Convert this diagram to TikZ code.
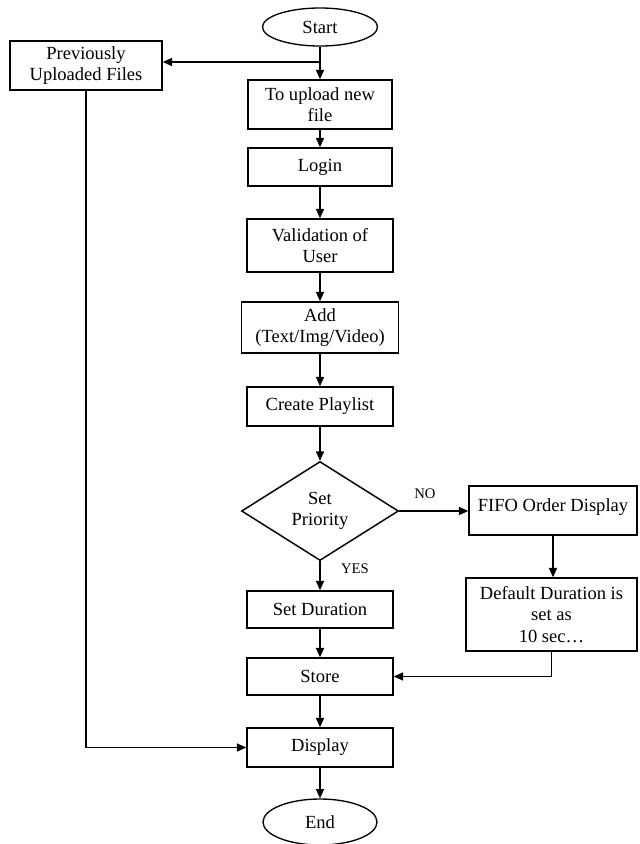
\documentclass[tikz,border=0pt]{standalone}
\usepackage{fontspec}
\setmainfont{Liberation Serif}
\usetikzlibrary{shapes.geometric,arrows.meta}
\begin{document}
\begin{tikzpicture}[x=0.75pt,y=-0.75pt,
  every node/.style={font=\fontsize{13.9}{16}\selectfont, align=center, inner sep=2pt},
  box/.style={draw, line width=1.1pt, rectangle},
  term/.style={draw, line width=1pt, ellipse, inner sep=0pt},
  decide/.style={draw, line width=1.1pt, diamond, shape aspect=1.5, inner sep=0pt},
  arr/.style={line width=1.1pt, -{Triangle[length=7pt,width=6pt]}},
  thinarr/.style={line width=0.9pt, -{Triangle[length=7pt,width=6pt]}},
  lbl/.style={font=\fontsize{11}{13}\selectfont}]
\useasboundingbox (0,0) rectangle (640,844);
% nodes
\node[term, minimum width=86.25pt, minimum height=28.5pt] (start) at (320,27) {Start};
\node[box, minimum width=114pt, minimum height=36.75pt] (prev) at (86,65.5) {Previously\\Uploaded Files};
\node[box, minimum width=108pt, minimum height=36.75pt] (upload) at (320,104.5) {To upload new\\file};
\node[box, minimum width=108pt, minimum height=28.5pt] (login) at (320,167) {Login};
\node[box, minimum width=109.5pt, minimum height=39.75pt] (valid) at (320,245.5) {Validation of\\User};
\node[box, minimum width=117.75pt, minimum height=38.25pt] (add) at (320,327.5) {Add\\(Text/Img/Video)};
\node[box, minimum width=109.5pt, minimum height=29.25pt] (create) at (320,406.5) {Create Playlist};
\node[decide, minimum width=117.75pt, minimum height=74.25pt] (prio) at (320,511) {Set\\Priority};
\node[box, minimum width=126pt, minimum height=36.75pt, text depth=8pt] (fifo) at (553,510.5) {FIFO Order Display};
\node[box, minimum width=128.25pt, minimum height=54.75pt] (default) at (551.5,614.5) {Default Duration is\\set as\\10 sec…};
\node[box, minimum width=109.5pt, minimum height=27.75pt] (setdur) at (320,609.5) {Set Duration};
\node[box, minimum width=109.5pt, minimum height=27.75pt] (store) at (320,676.5) {Store};
\node[box, minimum width=109.5pt, minimum height=29.25pt] (display) at (320,747.5) {Display};
\node[term, minimum width=85.5pt, minimum height=34.5pt] (end) at (320,822) {End};
\node[lbl] (no) at (425,494) {NO};
\node[lbl] (yes) at (355,569) {YES};
% connectors
\coordinate (br) at (320,62);
\draw[arr] (start.south) -- (upload.north);
\draw[arr] (br) -- (prev.east |- br);
\draw[arr] (upload) -- (login);
\draw[arr] (login) -- (valid);
\draw[arr] (valid) -- (add);
\draw[arr] (add) -- (create);
\draw[arr] (create) -- (prio);
\draw[arr] (prio.east) -- (prio.east -| fifo.west);
\draw[arr] (fifo.south) -- (fifo.south |- default.north);
\draw[arr] (prio.south) -- (setdur.north);
\draw[arr] (setdur) -- (store);
\draw[thinarr] (default.south) |- (store.east);
\draw[arr] (store) -- (display);
\draw[thinarr] (prev.south) |- (display.west);
\draw[arr] (display) -- (end);
\end{tikzpicture}
\end{document}
